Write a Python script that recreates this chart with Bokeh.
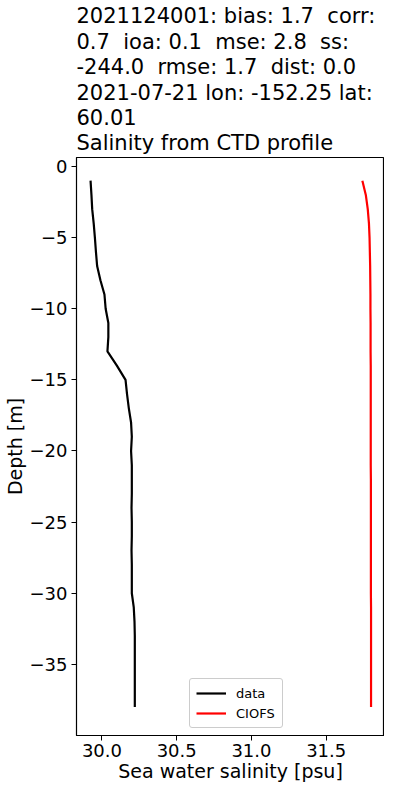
from bokeh.plotting import figure
from bokeh.models import Range1d, FixedTicker, Legend, LegendItem, NumeralTickFormatter
from bokeh.embed import file_html
from bokeh.resources import INLINE

depth = [-1, -2, -3, -4, -5, -6, -7, -8, -9, -10, -11, -12, -13, -14, -15, -16, -17, -18, -19,
         -20, -21, -22, -23, -24, -25, -26, -27, -28, -29, -30, -31, -32, -33, -34, -35, -36, -37, -38]
data_sal = [29.924, 29.93, 29.935, 29.945, 29.953, 29.96, 29.968, 29.99, 30.017, 30.025,
            30.043, 30.043, 30.037, 30.10, 30.158, 30.168, 30.18, 30.195, 30.2, 30.195,
            30.2, 30.2, 30.2, 30.198, 30.2, 30.2, 30.198, 30.2, 30.2, 30.2,
            30.213, 30.218, 30.22, 30.22, 30.22, 30.22, 30.22, 30.22]
model_sal = [31.742, 31.765, 31.778, 31.786, 31.79, 31.792, 31.794, 31.795, 31.796, 31.796,
             31.797, 31.797, 31.797, 31.798, 31.798, 31.798, 31.798, 31.798, 31.798, 31.798,
             31.798, 31.799, 31.799, 31.799, 31.799, 31.799, 31.799, 31.799, 31.799, 31.799,
             31.8, 31.8, 31.8, 31.8, 31.8, 31.8, 31.8, 31.8]
x_ticks = [30.0, 30.5, 31.0, 31.5]
y_ticks = [0, -5, -10, -15, -20, -25, -30, -35]
x_label = "Sea water salinity [psu]"
y_label = "Depth [m]"

NB = "\u00a0"
title_lines = [
    "2021124001: bias: 1.7 " + NB + "corr:",
    "0.7 " + NB + "ioa: 0.1 " + NB + "mse: 2.8 " + NB + "ss:",
    "-244.0 " + NB + "rmse: 1.7 " + NB + "dist: 0.0",
    "2021-07-21 lon: -152.25 lat:",
    "60.01",
    "Salinity from CTD profile",
]

FONT = "DejaVu Sans"

p = figure(width=384, height=784, output_backend="svg", toolbar_location=None,
           x_range=Range1d(29.83, 31.89), y_range=Range1d(-40.0, 0.63),
           min_border_left=0, min_border_right=0, min_border_top=0, min_border_bottom=0)

p.title.text = "\n".join(title_lines)
p.title.text_font = FONT
p.title.text_font_size = "21px"
p.title.text_font_style = "normal"
p.title.text_color = "black"
p.title.text_line_height = 1.06
p.title.align = "left"
p.title.standoff = 4

l1 = p.line(data_sal, depth, line_color="black", line_width=2.2)
l2 = p.line(model_sal, depth, line_color="red", line_width=2.2)

legend = Legend(items=[LegendItem(label="data", renderers=[l1]),
                       LegendItem(label="CIOFS", renderers=[l2])],
                location=(113, 7), label_text_font=FONT, label_text_font_size="13px",
                label_text_color="black",
                border_line_color="#cccccc", border_line_width=1, border_line_alpha=1.0,
                border_radius=3,
                background_fill_alpha=0.8, glyph_height=16, glyph_width=30,
                label_height=16, label_width=40, spacing=4, padding=6, margin=0,
                label_standoff=10)
p.add_layout(legend, "center")

p.xgrid.visible = False
p.ygrid.visible = False
p.outline_line_color = "black"
p.outline_line_width = 1.2

for ax in (p.xaxis[0], p.yaxis[0]):
    ax.major_label_text_font = FONT
    ax.major_label_text_font_size = "18px"
    ax.major_label_text_color = "black"
    ax.axis_label_text_font = FONT
    ax.axis_label_text_font_size = "19px"
    ax.axis_label_text_font_style = "normal"
    ax.axis_label_text_color = "black"
    ax.minor_tick_line_color = None
    ax.major_tick_out = 5
    ax.major_tick_in = 0
    ax.axis_line_color = "black"
    ax.major_tick_line_color = "black"

p.xaxis.ticker = FixedTicker(ticks=x_ticks)
p.xaxis.formatter = NumeralTickFormatter(format="0.0")
p.xaxis.axis_label = x_label
p.xaxis.axis_label_standoff = 0
p.xaxis.major_label_standoff = 3
p.yaxis.ticker = FixedTicker(ticks=y_ticks)
p.yaxis.axis_label = y_label
p.yaxis.axis_label_standoff = 1
p.yaxis.major_label_standoff = 4

open("out.html", "w").write(file_html(p, INLINE))
